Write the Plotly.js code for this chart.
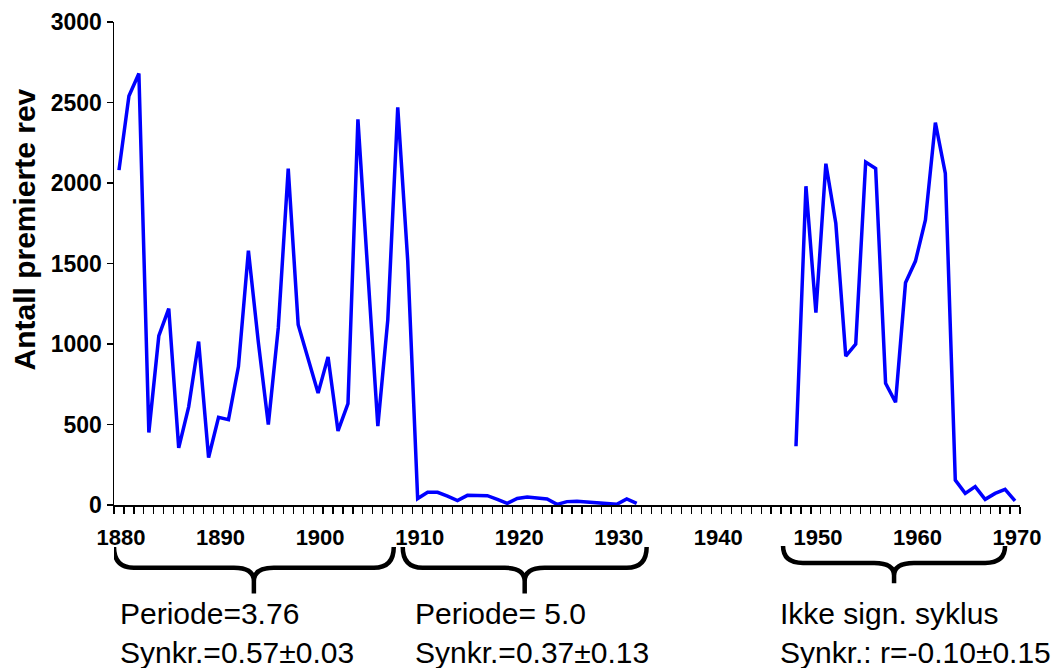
<!DOCTYPE html>
<html>
<head>
<meta charset="utf-8">
<script src="https://cdn.plot.ly/plotly-3.0.1.min.js"></script>
<style>
  html, body { margin: 0; padding: 0; background: #ffffff; }
  #chart { width: 1058px; height: 668px; }
</style>
</head>
<body>
<div id="chart"></div>
<script>
// Years on the category axis (one entry per year, 1880–1970)
const years = [
  1880, 1881, 1882, 1883, 1884, 1885, 1886, 1887, 1888, 1889,
  1890, 1891, 1892, 1893, 1894, 1895, 1896, 1897, 1898, 1899,
  1900, 1901, 1902, 1903, 1904, 1905, 1906, 1907, 1908, 1909,
  1910, 1911, 1912, 1913, 1914, 1915, 1916, 1917, 1918, 1919,
  1920, 1921, 1922, 1923, 1924, 1925, 1926, 1927, 1928, 1929,
  1930, 1931, 1932, 1933, 1934, 1935, 1936, 1937, 1938, 1939,
  1940, 1941, 1942, 1943, 1944, 1945, 1946, 1947, 1948, 1949,
  1950, 1951, 1952, 1953, 1954, 1955, 1956, 1957, 1958, 1959,
  1960, 1961, 1962, 1963, 1964, 1965, 1966, 1967, 1968, 1969,
  1970
];

// Number of rewarded foxes per year (no records 1933–1947)
const premierteRev = [
  2080, 2540, 2680, 450, 1050, 1220, 355, 610, 1015, 295,
  545, 530, 860, 1580, 1010, 500, 1100, 2090, 1120, 905,
  695, 920, 460, 630, 2395, 1440, 490, 1150, 2470, 1520,
  40, 79, 79, 55, 27, 60, 60, 58, 35, 10,
  41, 50, 43, 37, 4, 21, 23, 19, 13, 12,
  4, 38, 10, null, null, null, null, null, null, null,
  null, null, null, null, null, null, null, null, 365, 1980,
  1195, 2120, 1750, 925, 1000, 2130, 2090, 756, 638, 1380,
  1515, 1770, 2375, 2060, 155, 72, 114, 35, 72, 97,
  25
];

// Labelled years on the x axis
const xTickYears = [1880, 1890, 1900, 1910, 1920, 1930, 1940, 1950, 1960, 1970];
// Y axis ticks
const yTicks = [0, 500, 1000, 1500, 2000, 2500, 3000];

// Period notes written under each bracketed span
const periodNotes = [
  'Periode=3.76<br>Synkr.=0.57±0.03',
  'Periode= 5.0<br>Synkr.=0.37±0.13',
  'Ikke sign. syklus<br>Synkr.: r=-0.10±0.15'
];

const boldFont = 'Liberation Sans, Arial, Helvetica, sans-serif';

// Curly brace drawn under the x axis: x in years, y in paper fractions
function bracePath(x0, x1, yTop, yMid, yTip, r, neck) {
  const xm = (x0 + x1) / 2;
  return [
    'M', x0, yTop,
    'Q', x0, yMid, x0 + r, yMid,
    'L', xm - r, yMid,
    'Q', xm, yMid, xm, yMid - neck,
    'L', xm, yTip,
    'M', xm, yMid - neck,
    'Q', xm, yMid, xm + r, yMid,
    'L', x1 - r, yMid,
    'Q', x1, yMid, x1, yTop
  ].join(' ');
}

const braceStyle = { color: '#000000', width: 4.5 };
const shapes = [
  { type: 'path', xref: 'x', yref: 'paper', line: braceStyle, fillcolor: 'rgba(0,0,0,0)',
    path: bracePath(1879.5, 1907.6, -0.087, -0.130, -0.183, 2.0, 0.028) },
  { type: 'path', xref: 'x', yref: 'paper', line: braceStyle, fillcolor: 'rgba(0,0,0,0)',
    path: bracePath(1908.5, 1933.0, -0.087, -0.130, -0.183, 2.0, 0.028) },
  { type: 'path', xref: 'x', yref: 'paper', line: braceStyle, fillcolor: 'rgba(0,0,0,0)',
    path: bracePath(1946.7, 1969.0, -0.085, -0.120, -0.162, 2.0, 0.026) }
];

const noteX = [0.0044, 0.3300, 0.7329];
const annotations = periodNotes.map((t, i) => ({
  text: t, xref: 'paper', yref: 'paper', x: noteX[i], y: -0.187,
  xanchor: 'left', yanchor: 'top', align: 'left', showarrow: false,
  font: { family: 'Liberation Sans, Arial, sans-serif', size: 30, color: '#000000' }
}));

annotations.push({
  text: 'Antall premierte rev', xref: 'paper', yref: 'paper',
  x: -0.099, y: 0.571, xanchor: 'center', yanchor: 'middle',
  textangle: -90, showarrow: false,
  font: { family: boldFont, size: 30, color: '#000000', weight: 700 }
});

const trace = {
  type: 'scatter', mode: 'lines',
  x: years, y: premierteRev,
  connectgaps: false,
  line: { color: '#0000ff', width: 3.5 },
  hoverinfo: 'x+y'
};

const layout = {
  width: 1058, height: 668,
  margin: { l: 114, r: 38, t: 22, b: 163 },
  paper_bgcolor: '#ffffff', plot_bgcolor: '#ffffff',
  showlegend: false,
  xaxis: {
    range: [1879.5, 1970.5],
    showline: true, linecolor: '#000000', linewidth: 1.5,
    showgrid: false, zeroline: false,
    tickmode: 'array', tickvals: xTickYears, ticktext: xTickYears.map(String),
    ticks: '', ticklabelstandoff: 12, ticklabelshift: 2,
    minor: { tick0: 1879.5, dtick: 1, ticks: 'outside', ticklen: 7, tickwidth: 1.2, tickcolor: '#000000', showgrid: false },
    tickfont: { family: boldFont, size: 22, color: '#000000', weight: 700 },
    fixedrange: true
  },
  yaxis: {
    range: [0, 3000],
    showline: true, linecolor: '#000000', linewidth: 1.5,
    showgrid: false, zeroline: false,
    tickmode: 'array', tickvals: yTicks,
    ticks: 'outside', ticklen: 6, tickwidth: 1.2, tickcolor: '#000000',
    tickfont: { family: boldFont, size: 23, color: '#000000', weight: 700 },
    fixedrange: true
  },
  shapes: shapes,
  annotations: annotations
};

Plotly.newPlot('chart', [trace], layout, { displayModeBar: false, staticPlot: true });
</script>
</body>
</html>
